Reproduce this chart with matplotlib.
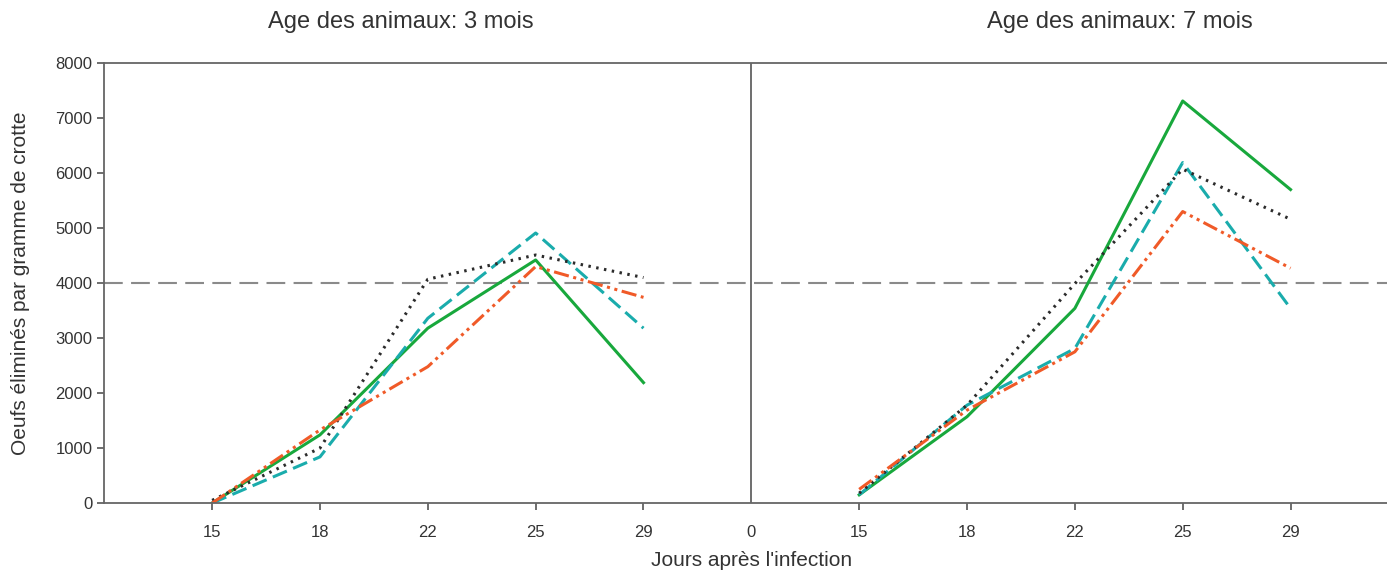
import matplotlib.pyplot as plt

plt.rcParams['font.family'] = ['Liberation Sans', 'DejaVu Sans']

# day labels, the "0" sits on the divider between the two age groups
day_labels = ["15", "18", "22", "25", "29", "0", "15", "18", "22", "25", "29"]
panel_titles = ["Age des animaux: 3 mois", "Age des animaux: 7 mois"]

# eggs per gram, 3 month old animals (days 15, 18, 22, 25, 29)
green_3 = [0, 1240, 3180, 4420, 2190]
teal_3 = [0, 840, 3360, 4910, 3180]
black_3 = [50, 1000, 4070, 4510, 4100]
orange_3 = [0, 1330, 2480, 4300, 3740]

# eggs per gram, 7 month old animals
green_7 = [150, 1570, 3540, 7310, 5700]
teal_7 = [150, 1780, 2810, 6190, 3540]
black_7 = [180, 1780, 3990, 6070, 5160]
orange_7 = [250, 1690, 2750, 5300, 4270]

threshold = 4000


def main():
    fig = plt.figure(figsize=(13.87, 5.73), dpi=100)
    # right edge runs a bit past the figure, so no right spine shows
    ax = fig.add_axes([0.0752, 0.122, 0.933, 0.768])

    pos_3 = [1, 2, 3, 4, 5]
    pos_7 = [7, 8, 9, 10, 11]

    styles = [
        ("#18a83c", "-", green_3, green_7),
        ("#1aacac", (0, (5, 2.2)), teal_3, teal_7),
        ("#2b2b2b", (0, (0.8, 1.8)), black_3, black_7),
        ("#f05a28", (0, (5, 1.5, 1, 1.5, 1, 1.5)), orange_3, orange_7),
    ]
    for col, ls, v3, v7 in styles:
        ax.plot(pos_3, v3, color=col, ls=ls, lw=2.2)
        ax.plot(pos_7, v7, color=col, ls=ls, lw=2.2)

    # threshold line and divider between the two groups
    ax.axhline(threshold, color="#8a8a8a", lw=1.5, ls=(0, (9, 4)), zorder=0)
    ax.axvline(6, color="#555555", lw=1.2, zorder=0)

    ax.set_xlim(0, 12)
    ax.set_ylim(0, 8000)
    ax.set_xticks(range(1, 12))
    ax.set_xticklabels(day_labels)
    ax.set_yticks(range(0, 8001, 1000))
    ax.xaxis.get_major_ticks()[5].tick1line.set_visible(False)

    ax.tick_params(colors="#555555", labelcolor="#333333", labelsize=12,
                   length=5, width=1.2)
    ax.tick_params(axis="x", pad=11)
    for side in ["left", "bottom", "top"]:
        ax.spines[side].set_color("#666666")
        ax.spines[side].set_linewidth(1.3)
    ax.spines["right"].set_visible(False)

    ax.set_xlabel("Jours après l'infection", fontsize=15, color="#333333",
                  labelpad=8)
    ax.set_ylabel("Oeufs éliminés par gramme de crotte", fontsize=15,
                  color="#333333", labelpad=18)

    fig.text(401 / 1387, 1 - 22 / 573, panel_titles[0], fontsize=17,
             color="#333333", ha="center", va="center")
    fig.text(1120 / 1387, 1 - 22 / 573, panel_titles[1], fontsize=17,
             color="#333333", ha="center", va="center")

    fig.savefig("out.png", dpi=100)


if __name__ == "__main__":
    main()
